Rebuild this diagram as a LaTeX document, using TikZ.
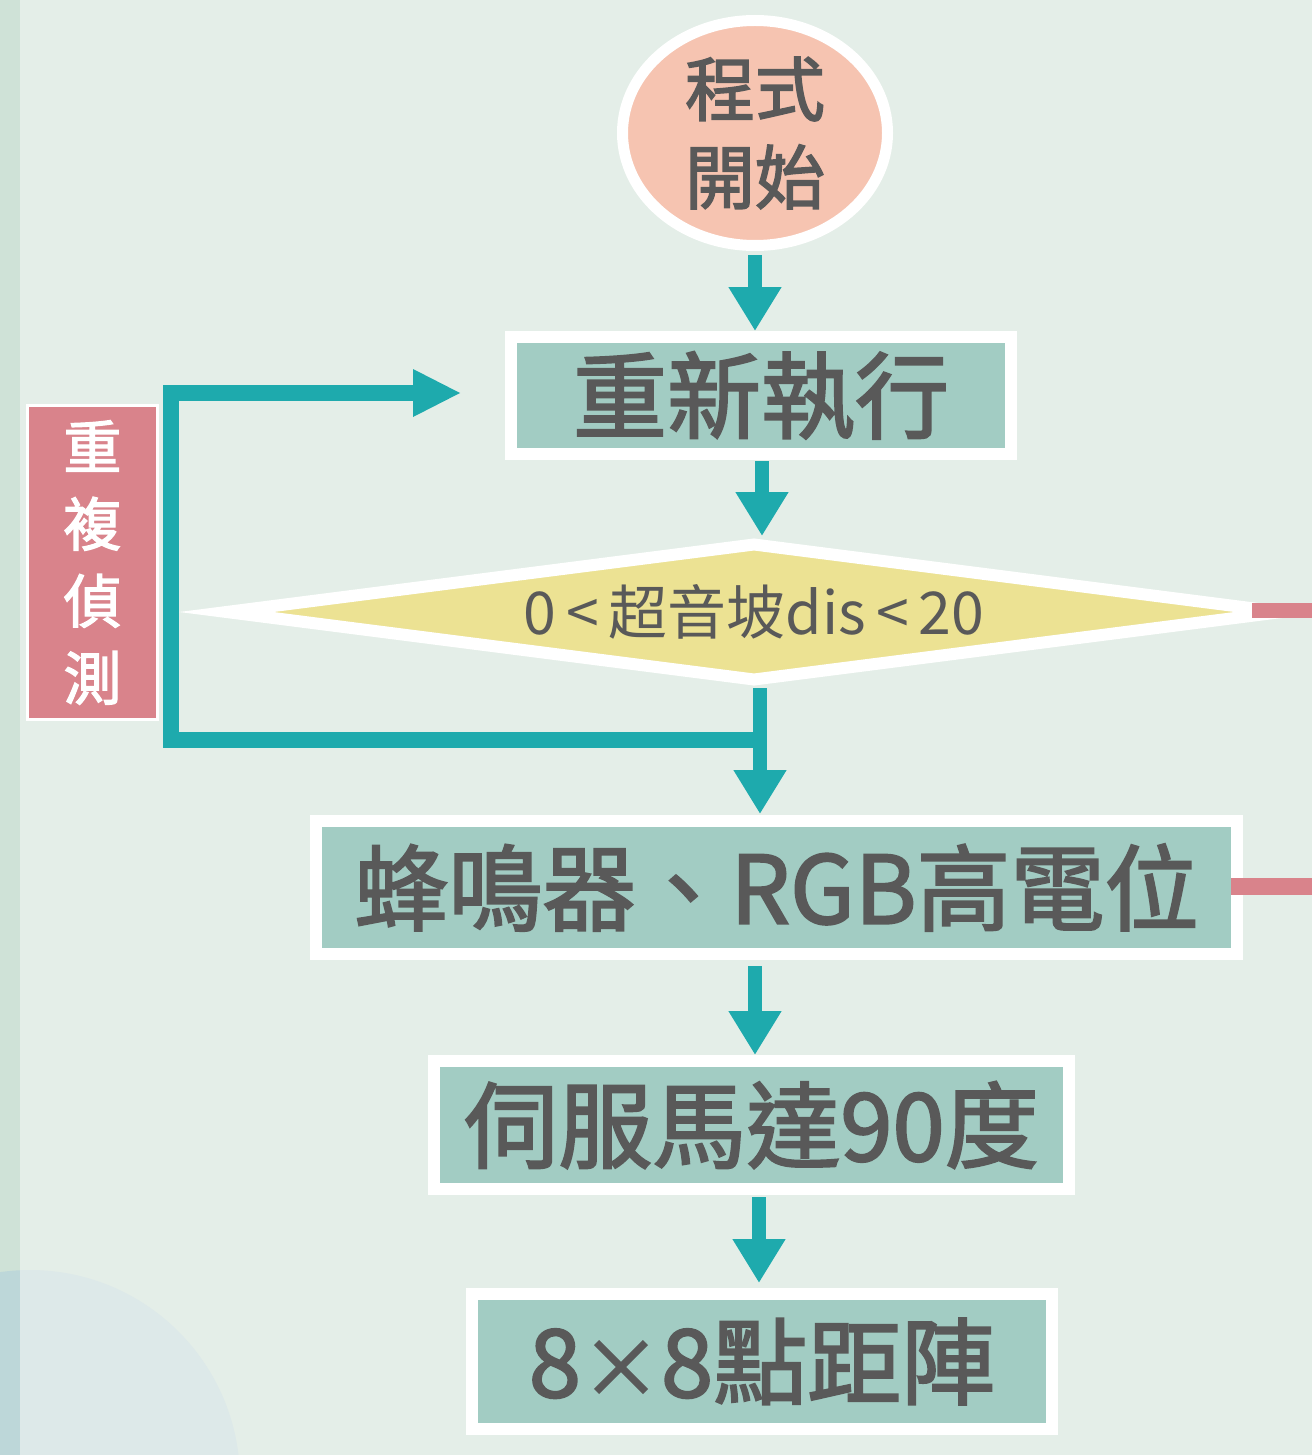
\documentclass[tikz,border=0pt]{standalone}
\usepackage{fontspec}
\setmainfont{Noto Sans CJK TC}
\newfontfamily\medfont{Noto Sans CJK TC}[FakeBold=2.2]
\usetikzlibrary{shapes.geometric,arrows.meta}
\definecolor{bgc}{HTML}{E4EEE8}
\definecolor{stripc}{HTML}{CFE2D7}
\definecolor{circc}{HTML}{DDE9E9}
\definecolor{circstrip}{HTML}{BDD7D9}
\definecolor{tealc}{HTML}{1EAAAD}
\definecolor{pinkc}{HTML}{D9838B}
\definecolor{boxc}{HTML}{A2CCC3}
\definecolor{salmonc}{HTML}{F6C4B1}
\definecolor{yellowc}{HTML}{ECE293}
\definecolor{txtc}{HTML}{595959}
\tikzset{
  procbox/.style={rectangle, draw=white, line width=6pt, fill=boxc, inner sep=0pt, text=txtc, font=\medfont\fontsize{47}{50}\selectfont},
  flowarrow/.style={draw=tealc, line width=7pt, -{Triangle[width=25pt,length=22pt]}},
  loopline/.style={draw=tealc, line width=8pt, line join=miter},
  pinkline/.style={draw=pinkc, line width=7.5pt},
}
\begin{document}
\begin{tikzpicture}[x=0.5pt,y=-0.5pt]
\useasboundingbox (0,0) rectangle (1312,1455);
\fill[bgc] (0,0) rectangle (1312,1455);
\fill[circc] (30,1480) circle[radius=105pt];
\fill[stripc] (0,0) rectangle (20,1455);
\begin{scope}
\clip (30,1480) circle[radius=105pt];
\fill[circstrip] (0,1200) rectangle (20,1455);
\end{scope}

% nodes
\node[ellipse, draw=white, line width=5.5pt, fill=salmonc, minimum width=132.5pt, minimum height=112.5pt, inner sep=0pt, text=txtc, align=center, font=\medfont\fontsize{35}{44}\selectfont] (start) at (755,133) {程式\\開始};
\node[procbox, minimum width=250pt, minimum height=58.5pt] (redo) at (761,395.5) {重新執行};
\node[diamond, draw=white, line width=6pt, fill=yellowc, minimum width=530pt, minimum height=70pt, aspect=7.57, inner sep=0pt, text=txtc, font=\fontsize{29.5}{30}\selectfont] (cond) at (754,612) {0\,<\,超音坡dis\,<\,20};
\node[rectangle, draw=white, line width=1.5pt, fill=pinkc, minimum width=65pt, minimum height=157pt, inner sep=0pt, text=white, align=center, font=\medfont\fontsize{29}{38.5}\selectfont] (rep) at (92.5,562.5) {重\\複\\偵\\測};
\node[procbox, minimum width=460.5pt, minimum height=66.5pt] (buzz) at (776.5,887.5) {蜂鳴器、RGB高電位};
\node[procbox, minimum width=317.5pt, minimum height=64pt] (servo) at (751.5,1125) {伺服馬達90度};
\node[procbox, minimum width=290pt, minimum height=67.5pt] (matrix) at (762,1361.5) {8{\fontsize{40}{50}\selectfont×}8點距陣};

% arrows
\draw[flowarrow] (755,255) -- (755,331);
\draw[flowarrow] (762,461) -- (762,536);
\draw[flowarrow] (760,688) -- (760,814);
\draw[flowarrow] (755,966) -- (755,1055);
\draw[flowarrow] (759,1197) -- (759,1283);

% loop
\coordinate (jn) at (760,740);
\coordinate (tip) at (460,393);
\draw[loopline] (jn) -- (171,740) -- (171,393) -- (420,393);
\fill[tealc] (413,369) -- (tip) -- (413,417) -- cycle;

% pink lines to the right
\coordinate (p1a) at (1252,610.5);
\coordinate (p1b) at (1312,610.5);
\coordinate (p2a) at (1231,886.5);
\coordinate (p2b) at (1312,886.5);
\draw[pinkline] (p1a) -- (p1b);
\draw[pinkline, line width=8.5pt] (p2a) -- (p2b);
\end{tikzpicture}
\end{document}
